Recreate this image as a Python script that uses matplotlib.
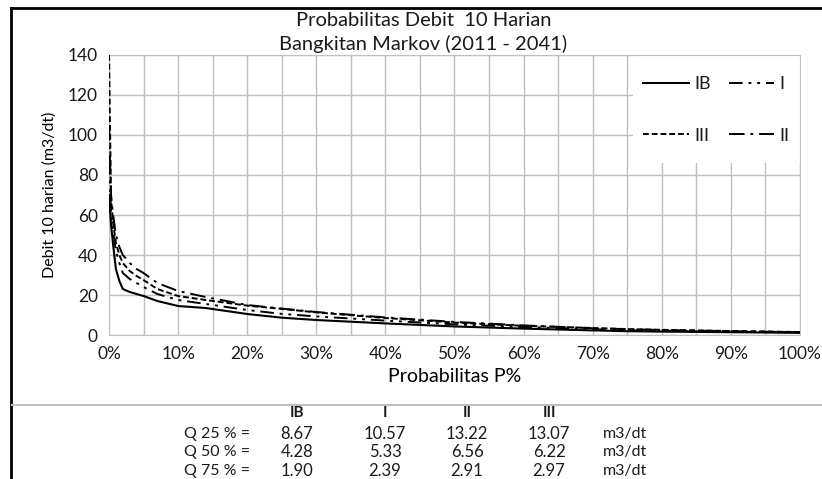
import matplotlib
matplotlib.use("Agg")
from matplotlib import pyplot as plt
from matplotlib.patches import Rectangle
from matplotlib.lines import Line2D

plt.rcParams['font.family'] = ['Lato', 'DejaVu Sans']
plt.rcParams['text.color'] = '#1a1a1a'

# probability of exceedance (%) and 10-day discharge (m3/dt) per series
prob = [0, 0.3, 0.6, 1, 1.5, 2, 3, 4, 5, 7, 10, 14, 20, 25, 30, 40, 50, 60, 70, 75, 80, 90, 100]
q_ib = [70, 55, 45, 33, 27, 23, 21.5, 20.5, 19.5, 17, 14.5, 13.5, 10.5, 8.67, 7.5, 5.8, 4.28, 3.2, 2.3, 1.90, 1.7, 1.4, 1.1]
q_i = [87, 62, 52, 42, 36, 31, 28, 26, 24, 20.5, 17.5, 15.5, 12.5, 10.57, 9.3, 7.2, 5.33, 4.0, 2.9, 2.39, 2.1, 1.7, 1.3]
q_iii = [140, 68, 56, 46, 40, 36, 32, 29.5, 27.5, 23, 19.5, 17.5, 14.7, 13.07, 11.3, 8.5, 6.22, 4.6, 3.5, 2.97, 2.6, 2.0, 1.5]
q_ii = [105, 70, 60, 50, 44, 40, 36, 33, 31, 26, 22, 19, 15.0, 13.22, 11.5, 8.8, 6.56, 4.8, 3.4, 2.91, 2.5, 1.9, 1.4]

series = ['IB', 'I', 'II', 'III']
rows = ['Q 25 % =', 'Q 50 % =', 'Q 75 % =']
table = [[8.67, 10.57, 13.22, 13.07],
         [4.28, 5.33, 6.56, 6.22],
         [1.90, 2.39, 2.91, 2.97]]

fig = plt.figure(figsize=(8.22, 4.79), dpi=100)
ax = fig.add_axes([0.1326, 0.3006, 0.8406, 0.5846])

ax.plot(prob, q_ib, color='black', lw=1.5, ls='-', label='IB', zorder=3)
ax.plot(prob, q_i, color='black', lw=1.4, ls=(0, (7, 3, 1.5, 3, 1.5, 3)), label='I', zorder=3)
ax.plot(prob, q_iii, color='black', lw=1.4, ls=(0, (3, 1.5)), label='III', zorder=3)
ax.plot(prob, q_ii, color='black', lw=1.4, ls=(0, (8, 3, 1.5, 3)), label='II', zorder=3)

ax.set_xlim(0, 100)
ax.set_ylim(0, 140)
ax.set_xticks(range(0, 101, 10))
ax.set_xticks(range(5, 100, 10), minor=True)
ax.set_xticklabels([f'{v}%' for v in range(0, 101, 10)])
ax.set_yticks(range(0, 141, 20))
ax.set_axisbelow(True)
ax.grid(True, which='both', color='#bfbfbf', lw=1)
ax.tick_params(which='both', length=0, labelsize=12.5, pad=8, labelcolor='#1a1a1a')
for s in ax.spines.values():
    s.set_color('#bfbfbf')
ax.set_xlabel('Probabilitas P%', fontsize=14, labelpad=4)
ax.set_ylabel('Debit 10 harian (m3/dt)', fontsize=11.5, labelpad=8)

# white area behind legend
ax.add_patch(Rectangle((0.758, 0.614), 0.242, 0.386, transform=ax.transAxes,
                       facecolor='white', edgecolor='none', zorder=1.5))
h, l = ax.get_legend_handles_labels()
order = [0, 2, 1, 3]
ax.legend([h[i] for i in order], [l[i] for i in order], ncol=2, frameon=False,
          loc='upper left', bbox_to_anchor=(0.75, 0.983), labelspacing=1.98,
          handlelength=2.5, handletextpad=0.3, columnspacing=1.0, fontsize=13)

fig.text(0.515, 0.958, 'Probabilitas Debit  10 Harian', ha='center', va='center', fontsize=14.5)
fig.text(0.515, 0.908, 'Bangkitan Markov (2011 - 2041)', ha='center', va='center', fontsize=14.5)

# frame lines
fig.add_artist(Line2D([11 / 822, 11 / 822], [0, 1 - 8 / 479], transform=fig.transFigure, color='black', lw=2))
fig.add_artist(Line2D([11 / 822, 1], [1 - 8 / 479, 1 - 8 / 479], transform=fig.transFigure, color='black', lw=2))
fig.add_artist(Line2D([12 / 822, 1], [1 - 405 / 479, 1 - 405 / 479], transform=fig.transFigure, color='#bfbfbf', lw=1.5))

# summary table
col_x = [297, 385, 467, 549]
row_y = [434, 452, 471]
for s, x in zip(series, col_x):
    fig.text(x / 822, 1 - 413 / 479, s, ha='center', va='center', fontsize=11, fontweight='bold')
for r, y, vals in zip(rows, row_y, table):
    fig.text(250 / 822, 1 - y / 479, r, ha='right', va='center', fontsize=11.5)
    for v, x in zip(vals, col_x):
        fig.text(x / 822, 1 - y / 479, f'{v:.2f}', ha='center', va='center', fontsize=12)
    fig.text(625 / 822, 1 - y / 479, 'm3/dt', ha='center', va='center', fontsize=11.5)

fig.savefig('out.png', dpi=100)
